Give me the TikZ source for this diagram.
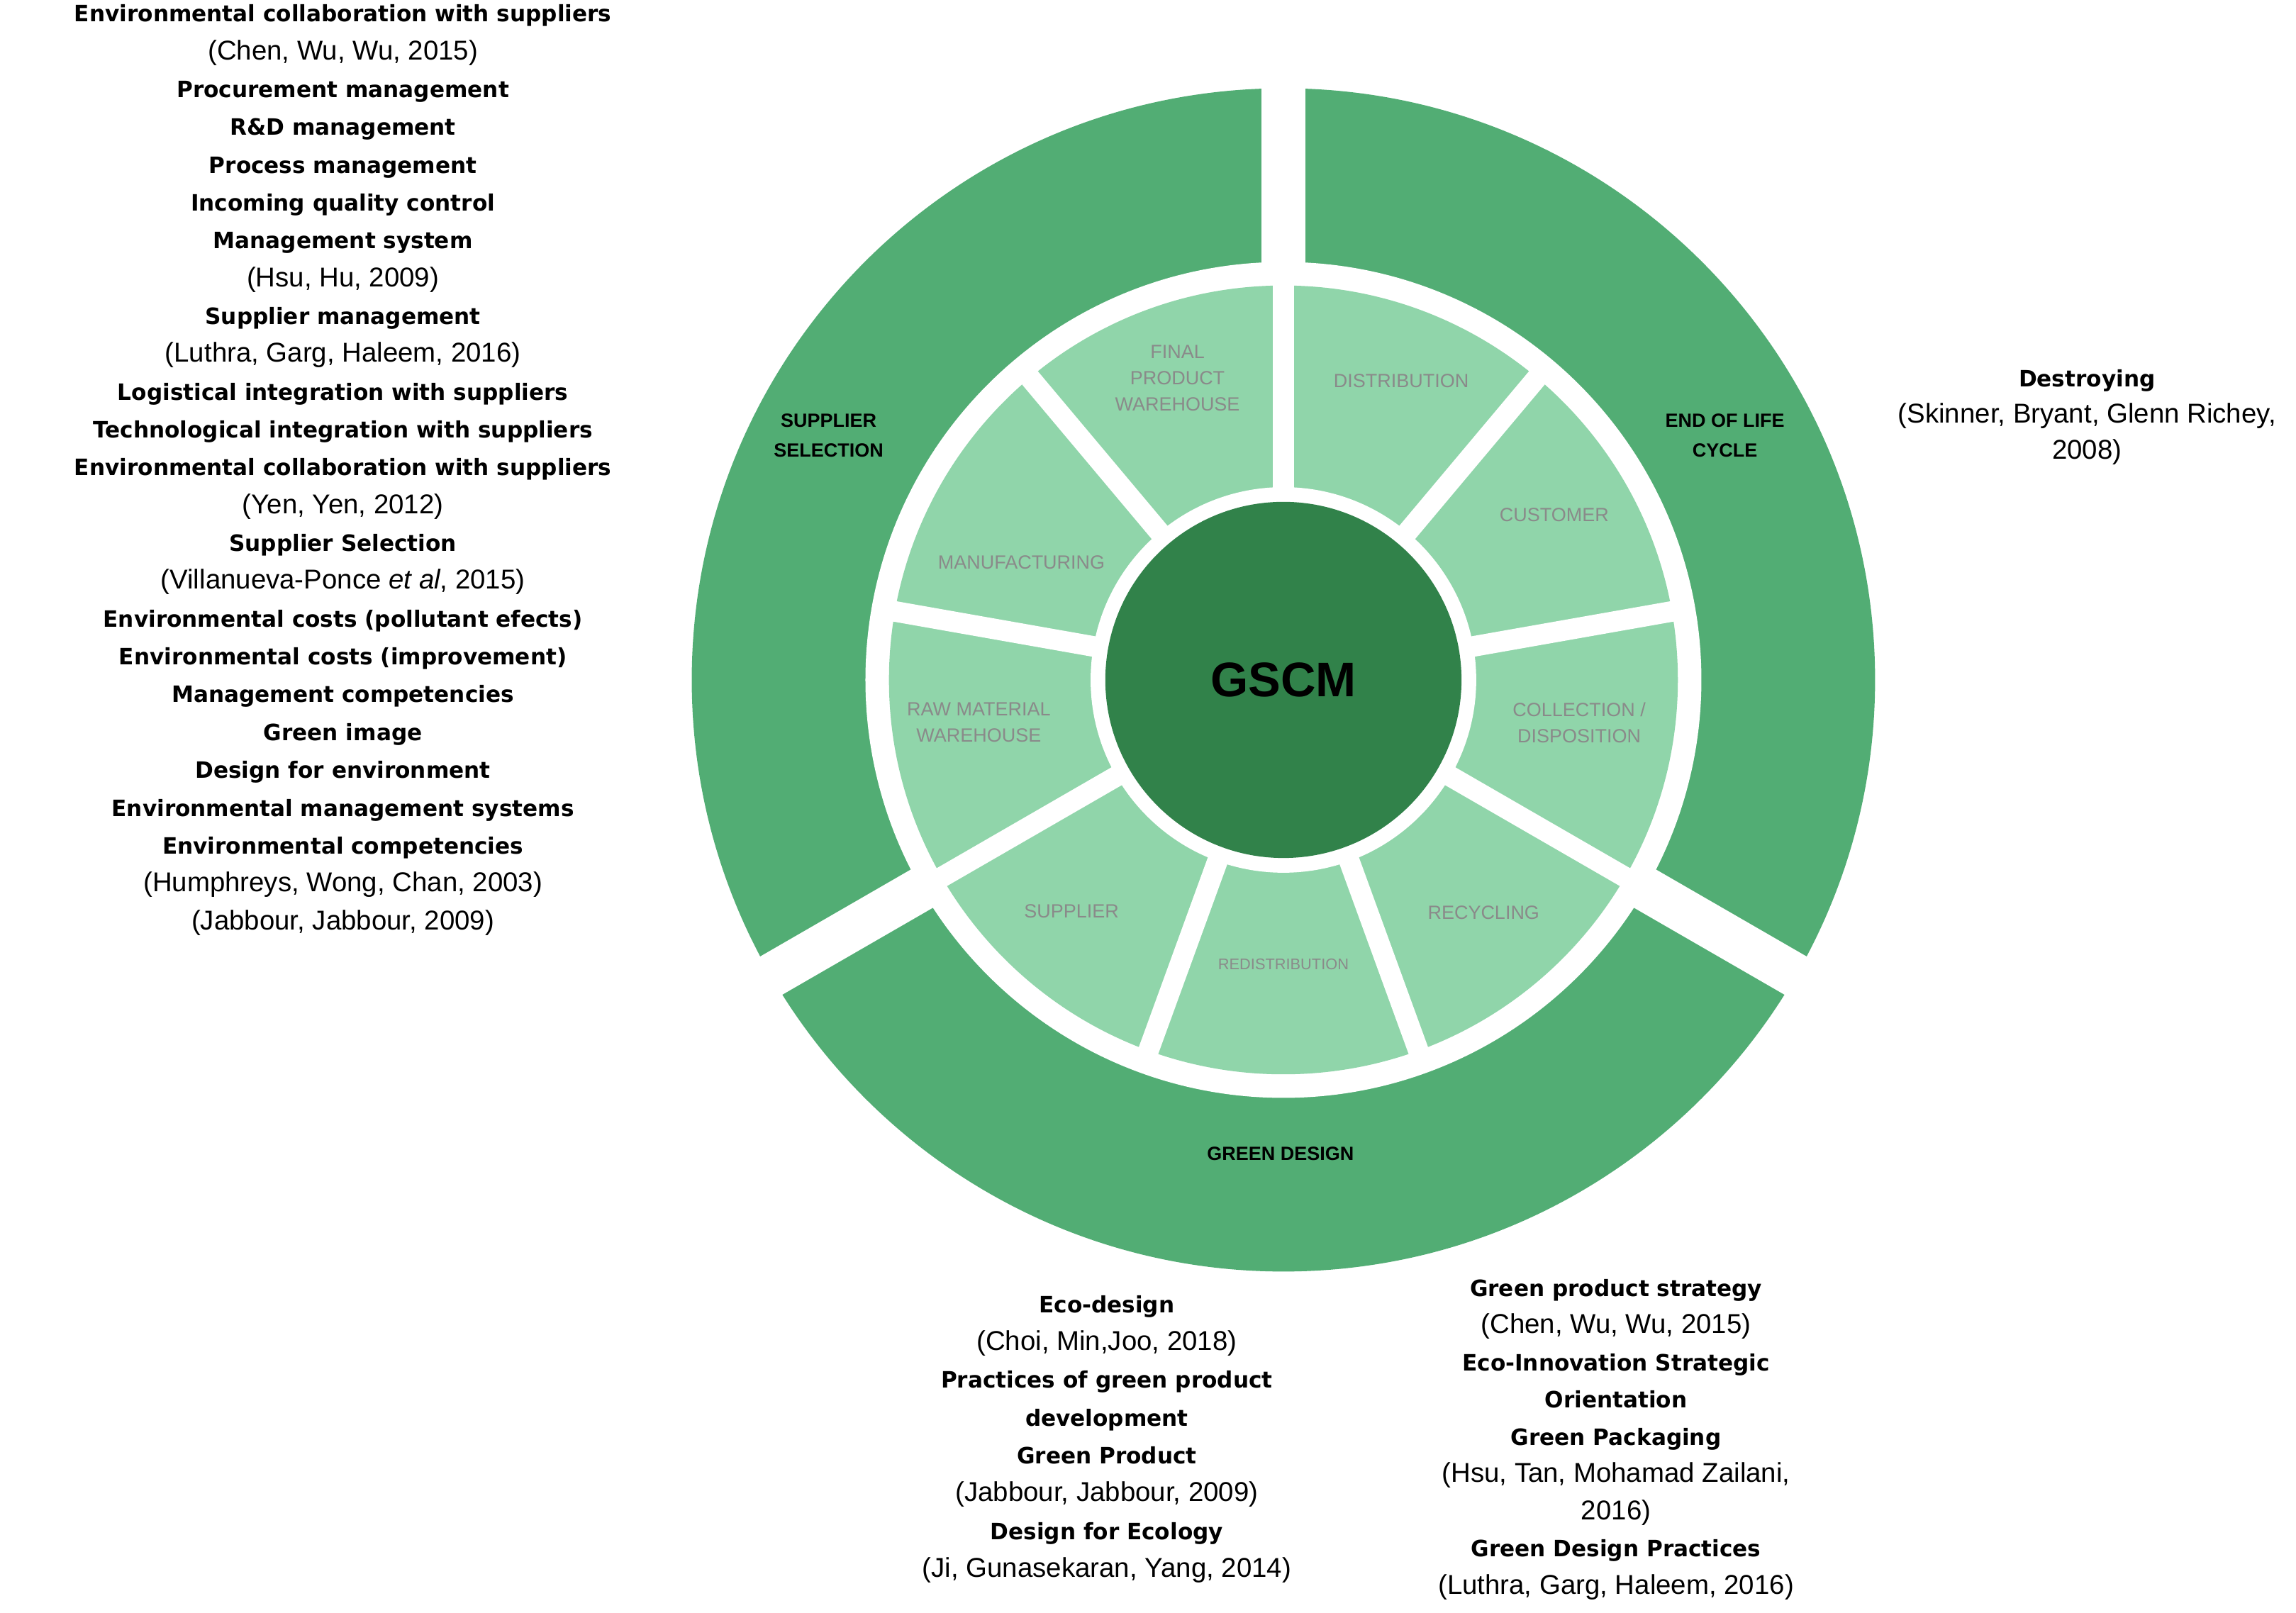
\documentclass[tikz,border=0pt]{standalone}
\usepackage{fontspec}
\setmainfont{Liberation Sans}
\newfontfamily\bfam{DejaVu Sans}[FakeStretch=0.98]
\definecolor{outerg}{HTML}{52AD74}
\definecolor{lightg}{HTML}{90D5AA}
\definecolor{darkg}{HTML}{31824A}
\definecolor{lab}{HTML}{8A8A8A}
\newcommand{\B}[1]{{\bfam\bfseries\fontsize{15.3}{25.7}\selectfont #1}}
\begin{document}
\begin{tikzpicture}[x=1pt,y=1pt,
  txt/.style={align=center,font=\fontsize{18.5}{25.7}\selectfont,inner sep=0pt},
  inlab/.style={align=center,text=lab,font=\fontsize{13}{18}\selectfont,inner sep=0pt},
  outlab/.style={align=center,text=black,font=\bfseries\fontsize{13}{20}\selectfont,inner sep=0pt}]
\useasboundingbox (0,0) rectangle (1560,-1096);
\coordinate (C) at (872,-462);
% outer ring
\fill[outerg] (C) circle (402);
\fill[white] (C) circle (284);
\foreach \a in {90,210,330}{\draw[white,line width=30] (C) ++(\a:270) -- ++(\a:150);}
% inner ring
\fill[lightg] (C) circle (268);
\foreach \k in {0,...,8}{\draw[white,line width=14] (C) -- ++({90-40*\k}:275);}
\fill[white] (C) circle (131);
\fill[darkg] (C) circle (121);
\node[font=\bfseries\fontsize{33}{36}\selectfont] (gscm) at (C) {GSCM};
% inner labels
\node[inlab] (fpw) at (800,-257) {FINAL\\PRODUCT\\WAREHOUSE};
\node[inlab] (dis) at (952,-259) {DISTRIBUTION};
\node[inlab] (cus) at (1056,-350) {CUSTOMER};
\node[inlab] (col) at (1073,-491) {COLLECTION /\\DISPOSITION};
\node[inlab] (rec) at (1008,-620) {RECYCLING};
\node[inlab,font=\fontsize{10.5}{14}\selectfont] (red) at (872,-655) {REDISTRIBUTION};
\node[inlab] (sup) at (728,-619) {SUPPLIER};
\node[inlab] (raw) at (665,-491) {RAW MATERIAL\\WAREHOUSE};
\node[inlab] (man) at (694,-382) {MANUFACTURING};
% outer labels
\node[outlab] (ss) at (563,-296) {SUPPLIER\\SELECTION};
\node[outlab] (eol) at (1172,-296) {END OF LIFE\\CYCLE};
\node[outlab] (gd) at (870,-784) {GREEN DESIGN};
% texts
\node[txt,anchor=north] (left) at (233,-3) {\B{Environmental collaboration with suppliers}\\(Chen, Wu, Wu, 2015)\\\B{Procurement management}\\\B{R\&D management}\\\B{Process management}\\\B{Incoming quality control}\\\B{Management system}\\(Hsu, Hu, 2009)\\\B{Supplier management}\\(Luthra, Garg, Haleem, 2016)\\\B{Logistical integration with suppliers}\\\B{Technological integration with suppliers}\\\B{Environmental collaboration with suppliers}\\(Yen, Yen, 2012)\\\B{Supplier Selection}\\(Villanueva-Ponce \textit{et al}, 2015)\\\B{Environmental costs (pollutant efects)}\\\B{Environmental costs (improvement)}\\\B{Management competencies}\\\B{Green image}\\\B{Design for environment}\\\B{Environmental management systems}\\\B{Environmental competencies}\\(Humphreys, Wong, Chan, 2003)\\(Jabbour, Jabbour, 2009)};
\node[txt,anchor=north,font=\fontsize{18.5}{24.5}\selectfont] (right) at (1418,-251) {\B{Destroying}\\(Skinner, Bryant, Glenn Richey,\\2008)};
\node[txt,anchor=north] (bm) at (752,-880) {\B{Eco-design}\\(Choi, Min,Joo, 2018)\\\B{Practices of green product}\\\B{development}\\\B{Green Product}\\(Jabbour, Jabbour, 2009)\\\B{Design for Ecology}\\(Ji, Gunasekaran, Yang, 2014)};
\node[txt,anchor=north,font=\fontsize{18.5}{25.3}\selectfont] (br) at (1098,-869) {\B{Green product strategy}\\(Chen, Wu, Wu, 2015)\\\B{Eco-Innovation Strategic}\\\B{Orientation}\\\B{Green Packaging}\\(Hsu, Tan, Mohamad Zailani,\\2016)\\\B{Green Design Practices}\\(Luthra, Garg, Haleem, 2016)};
\end{tikzpicture}
\end{document}
